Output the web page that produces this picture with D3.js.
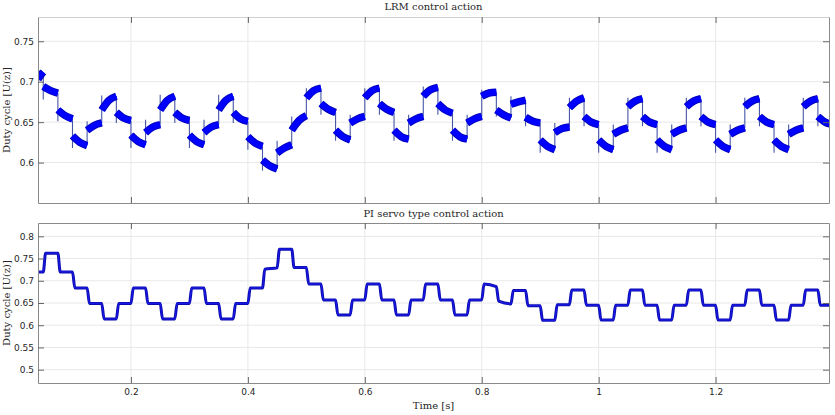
<!DOCTYPE html>
<html><head><meta charset="utf-8">
<script src="https://cdn.jsdelivr.net/npm/d3@7"></script>
<style>body{margin:0;background:#fff}svg{display:block}</style>
</head><body><svg id="c" width="835" height="415"></svg>
<script>
// ---------- data ----------
const xTicks = [0.2, 0.4, 0.6, 0.8, 1, 1.2];
const xTickLabels = ["0.2", "0.4", "0.6", "0.8", "1", "1.2"];
const lrmYTicks = [0.6, 0.65, 0.7, 0.75];
const lrmYTickLabels = ["0.6", "0.65", "0.7", "0.75"];
const piYTicks = [0.5, 0.55, 0.6, 0.65, 0.7, 0.75, 0.8];
const piYTickLabels = ["0.5", "0.55", "0.6", "0.65", "0.7", "0.75", "0.8"];

// segment start times [s] (first segment begins at the left edge of the view)
const segStart = [0.041, 0.05, 0.075, 0.1, 0.125, 0.15, 0.175, 0.2, 0.225, 0.25, 0.275,
  0.3, 0.325, 0.35, 0.375, 0.4, 0.425, 0.45, 0.475, 0.5, 0.525, 0.55, 0.575, 0.6, 0.625,
  0.65, 0.675, 0.7, 0.725, 0.75, 0.775, 0.8, 0.825, 0.85, 0.875, 0.9, 0.925, 0.95, 0.975,
  1.0, 1.025, 1.05, 1.075, 1.1, 1.125, 1.15, 1.175, 1.2, 1.225, 1.25, 1.275, 1.3, 1.325,
  1.35, 1.375];
const tEnd = 1.4;

// LRM control action: band centre at start / middle / end of each segment, spike extreme at its start
const lrmStart = [0.703, 0.694, 0.665, 0.633, 0.640, 0.665, 0.662, 0.634, 0.637, 0.665, 0.662,
  0.634, 0.637, 0.665, 0.662, 0.632, 0.603, 0.612, 0.640, 0.680, 0.673, 0.640, 0.649, 0.680,
  0.673, 0.640, 0.649, 0.682, 0.673, 0.640, 0.649, 0.682, 0.665, 0.672, 0.656, 0.628, 0.637,
  0.668, 0.657, 0.628, 0.635, 0.669, 0.657, 0.628, 0.635, 0.669, 0.657, 0.628, 0.635, 0.669,
  0.657, 0.628, 0.635, 0.669, 0.657];
const lrmMid = [0.708, 0.689, 0.658, 0.625, 0.646, 0.677, 0.655, 0.626, 0.644, 0.677, 0.655,
  0.626, 0.644, 0.677, 0.654, 0.624, 0.596, 0.618, 0.652, 0.689, 0.666, 0.632, 0.654, 0.689,
  0.666, 0.632, 0.654, 0.690, 0.665, 0.632, 0.654, 0.686, 0.659, 0.675, 0.651, 0.620, 0.642,
  0.676, 0.650, 0.620, 0.640, 0.676, 0.650, 0.620, 0.640, 0.676, 0.650, 0.620, 0.640, 0.676,
  0.650, 0.620, 0.640, 0.676, 0.650];
const lrmEnd = [0.712, 0.686, 0.654, 0.621, 0.649, 0.682, 0.652, 0.622, 0.647, 0.682, 0.652,
  0.622, 0.647, 0.682, 0.651, 0.620, 0.592, 0.622, 0.658, 0.692, 0.662, 0.628, 0.657, 0.692,
  0.662, 0.629, 0.657, 0.693, 0.661, 0.629, 0.657, 0.687, 0.655, 0.677, 0.649, 0.616, 0.644,
  0.680, 0.647, 0.616, 0.643, 0.679, 0.647, 0.616, 0.643, 0.679, 0.647, 0.616, 0.643, 0.679,
  0.647, 0.616, 0.643, 0.679, 0.647];
const lrmSpike = [null, 0.678, 0.651, 0.618, 0.651, 0.683, 0.649, 0.618, 0.653, 0.684, 0.649,
  0.618, 0.653, 0.684, 0.649, 0.616, 0.590, 0.627, 0.657, 0.692, 0.659, 0.627, 0.659, 0.692,
  0.659, 0.627, 0.659, 0.694, 0.659, 0.627, 0.659, 0.690, 0.657, 0.682, 0.645, 0.612, 0.649,
  0.680, 0.645, 0.612, 0.647, 0.680, 0.645, 0.612, 0.647, 0.680, 0.645, 0.612, 0.647, 0.680,
  0.645, 0.612, 0.647, 0.680, 0.645];

// PI servo control action: level at start / end of each segment
const piStart = [0.720, 0.762, 0.720, 0.684, 0.649, 0.614, 0.649, 0.684, 0.649, 0.614, 0.649,
  0.684, 0.649, 0.614, 0.649, 0.684, 0.726, 0.771, 0.730, 0.693, 0.657, 0.623, 0.657, 0.693,
  0.657, 0.623, 0.657, 0.693, 0.657, 0.623, 0.657, 0.693, 0.654, 0.678, 0.644, 0.611, 0.646,
  0.679, 0.645, 0.612, 0.645, 0.679, 0.645, 0.612, 0.645, 0.679, 0.645, 0.612, 0.645, 0.679,
  0.645, 0.612, 0.645, 0.679, 0.645];
const piEnd = [0.720, 0.762, 0.720, 0.684, 0.649, 0.614, 0.649, 0.684, 0.649, 0.614, 0.649,
  0.684, 0.649, 0.614, 0.649, 0.684, 0.729, 0.771, 0.730, 0.693, 0.657, 0.623, 0.657, 0.693,
  0.657, 0.623, 0.657, 0.693, 0.657, 0.623, 0.657, 0.687, 0.648, 0.678, 0.644, 0.611, 0.646,
  0.679, 0.645, 0.612, 0.645, 0.679, 0.645, 0.612, 0.645, 0.679, 0.645, 0.612, 0.645, 0.679,
  0.645, 0.612, 0.645, 0.679, 0.645];

// ---------- layout ----------
const L = 38, R = 829;
const top1 = 17, bot1 = 203, top2 = 223, bot2 = 383;
const riseTime = 0.004;

const svg = d3.select("#c");
const x = d3.scaleLinear().domain([0.041, 1.394]).range([L, R]);
const yTop = d3.scaleLinear().domain([0.55, 0.78]).range([bot1, top1]);
const yBot = d3.scaleLinear().domain([0.47, 0.83]).range([bot2, top2]);
const segEnd = i => (i + 1 < segStart.length ? segStart[i + 1] : tEnd);

const serif = "'DejaVu Serif', 'Liberation Serif', serif";
const sans = "'DejaVu Sans', 'Liberation Sans', sans-serif";

function drawGrid(y, yTicks, top, bottom, id) {
  const g = svg.append("g");
  g.selectAll("line.gx").data(xTicks).join("line")
    .attr("x1", d => x(d)).attr("x2", d => x(d))
    .attr("y1", top).attr("y2", bottom)
    .attr("stroke", "#e8e8e8").attr("stroke-width", 1);
  g.selectAll("line.gy").data(yTicks).join("line")
    .attr("x1", L).attr("x2", R)
    .attr("y1", d => y(d)).attr("y2", d => y(d))
    .attr("stroke", "#e8e8e8").attr("stroke-width", 1);
  svg.append("clipPath").attr("id", id).append("rect")
    .attr("x", L).attr("y", top).attr("width", R - L).attr("height", bottom - top);
}

function drawAxes(y, yTicks, yLabels, top, bottom, showX, boxTop) {
  const col = "#8a8a8a";
  const tk = 6;
  const gB = svg.append("g").attr("transform", `translate(0,${bottom})`)
    .call(d3.axisBottom(x).tickValues(xTicks)
      .tickFormat((d, i) => showX ? xTickLabels[i] : "")
      .tickSizeInner(-tk).tickSizeOuter(0).tickPadding(6));
  const gT = svg.append("g").attr("transform", `translate(0,${top})`)
    .call(d3.axisTop(x).tickValues(xTicks).tickFormat("")
      .tickSizeInner(-tk).tickSizeOuter(0));
  const gL = svg.append("g").attr("transform", `translate(${L},0)`)
    .call(d3.axisLeft(y).tickValues(yTicks)
      .tickFormat((d, i) => yLabels[i])
      .tickSizeInner(-tk).tickSizeOuter(0).tickPadding(4));
  const gR = svg.append("g").attr("transform", `translate(${R},0)`)
    .call(d3.axisRight(y).tickValues(yTicks).tickFormat("")
      .tickSizeInner(-tk).tickSizeOuter(0));
  [gB, gT, gL, gR].forEach(g => {
    g.select(".domain").attr("stroke", col).attr("stroke-width", 1);
    g.selectAll(".tick line").attr("stroke", "#666").attr("stroke-width", 1);
    g.selectAll("text").attr("fill", "#262626").style("font-family", sans).style("font-size", "9px");
  });
  gT.select(".domain").attr("stroke", boxTop);
}

// ---------- top panel: LRM ----------
drawGrid(yTop, lrmYTicks, top1, bot1, "clipTop");
const gLrm = svg.append("g").attr("clip-path", "url(#clipTop)");
const lrmSegs = segStart.map((t0, i) => {
  const t1 = segEnd(i);
  return [
    { t: t0, v: lrmStart[i] },
    { t: (t0 + t1) / 2, v: lrmMid[i] },
    { t: t1, v: lrmEnd[i] }
  ];
});
const segLine = d3.line().x(d => x(d.t)).y(d => yTop(d.v)).curve(d3.curveMonotoneX);
// spikes at each step
gLrm.selectAll("line.spike").data(segStart.map((t, i) => i).filter(i => lrmSpike[i] !== null))
  .join("line")
  .attr("x1", i => x(segStart[i])).attr("x2", i => x(segStart[i]))
  .attr("y1", i => yTop(lrmEnd[i - 1])).attr("y2", i => yTop(lrmSpike[i]))
  .attr("stroke", "#4656a6").attr("stroke-width", 1.1);
gLrm.selectAll("path.band").data(lrmSegs).join("path")
  .attr("d", segLine).attr("fill", "none")
  .attr("stroke", "#0000c0").attr("stroke-width", 7.5);
gLrm.selectAll("path.core").data(lrmSegs).join("path")
  .attr("d", segLine).attr("fill", "none")
  .attr("stroke", "#0000ff").attr("stroke-width", 5.5);
drawAxes(yTop, lrmYTicks, lrmYTickLabels, top1, bot1, false, "#d0d0d0");

// ---------- bottom panel: PI ----------
drawGrid(yBot, piYTicks, top2, bot2, "clipBot");
const gPi = svg.append("g").attr("clip-path", "url(#clipBot)");
const piPts = [];
segStart.forEach((t0, i) => {
  const t1 = segEnd(i);
  piPts.push({ t: i === 0 ? t0 : t0 + riseTime, v: piStart[i] });
  piPts.push({ t: t1, v: piEnd[i] });
});
const piLine = d3.line().x(d => x(d.t)).y(d => yBot(d.v)).curve(d3.curveMonotoneX);
gPi.append("path").datum(piPts).attr("d", piLine).attr("fill", "none")
  .attr("stroke", "#0c0cb0").attr("stroke-width", 3);
gPi.append("path").datum(piPts).attr("d", piLine).attr("fill", "none")
  .attr("stroke", "#1818e6").attr("stroke-width", 1.2);
drawAxes(yBot, piYTicks, piYTickLabels, top2, bot2, true, "#8a8a8a");

// ---------- texts ----------
const cx = (L + R) / 2;
svg.append("text").attr("x", cx).attr("y", 10).attr("text-anchor", "middle")
  .style("font-family", serif).style("font-size", "10px").attr("fill", "#262626")
  .text("LRM control action");
svg.append("text").attr("x", cx).attr("y", 216.5).attr("text-anchor", "middle")
  .style("font-family", serif).style("font-size", "10px").attr("fill", "#262626")
  .text("PI servo type control action");
svg.append("text").attr("x", cx).attr("y", 409).attr("text-anchor", "middle")
  .style("font-family", serif).style("font-size", "10px").attr("fill", "#262626")
  .text("Time [s]");
[[top1, bot1], [top2, bot2]].forEach(([a, b]) => {
  svg.append("text").attr("transform", `translate(10,${(a + b) / 2}) rotate(-90)`)
    .attr("text-anchor", "middle")
    .style("font-family", serif).style("font-size", "10px").attr("fill", "#262626")
    .text("Duty cycle [U(z)]");
});
</script></body></html>
